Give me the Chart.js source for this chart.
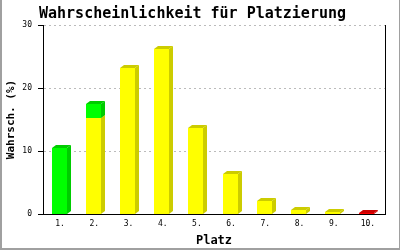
<!DOCTYPE html>
<html>
<head>
<meta charset="utf-8">
<script src="https://cdn.jsdelivr.net/npm/chart.js@4.4.1/dist/chart.umd.min.js"></script>
<style>
  html, body { margin: 0; padding: 0; background: #fff; }
  canvas { display: block; }
</style>
</head>
<body>
<canvas id="chart" width="400" height="250"></canvas>
<script>
// Platzierungen 1. bis 10.
const places = ['1.', '2.', '3.', '4.', '5.', '6.', '7.', '8.', '9.', '10.'];

// Wahrscheinlichkeiten in %, gestapelt: gelb unten, gruen/rot oben
const yellowValues = [0, 15.2, 23.2, 26.2, 13.7, 6.4, 2.1, 0.7, 0.3, 0];
const greenValues = [10.4, 2.3, 0, 0, 0, 0, 0, 0, 0, 0];
const redValues = [0, 0, 0, 0, 0, 0, 0, 0, 0, 0.1];

const yTicks = [0, 10, 20, 30];

const MONO = '"DejaVu Sans Mono", "Liberation Mono", monospace';

// front / side colours for the fake 3D bars
const faceColors = [
  { front: '#ffff00', side: '#cccc00' },
  { front: '#00ff00', side: '#00cc00' },
  { front: '#ff0000', side: '#cc0000' },
];

// redraws every bar with a right side and a top face, bottom stack first
const bars3d = {
  id: 'bars3d',
  afterDatasetsDraw(chart) {
    const ctx = chart.ctx;
    const dx = 4, dy = 3;
    ctx.save();
    chart.data.datasets.forEach((ds, i) => {
      const meta = chart.getDatasetMeta(i);
      const col = faceColors[i];
      meta.data.forEach((bar, j) => {
        if (!ds.data[j]) return;
        const { x, y, base, width } = bar.getProps(['x', 'y', 'base', 'width'], true);
        const l = Math.round(x - width / 2) - 1, r = l + Math.round(width);
        const top = Math.round(y), bot = Math.round(base);
        ctx.fillStyle = col.front;
        ctx.fillRect(l, top, r - l, Math.max(bot - top, 1));
        ctx.fillStyle = col.side;
        ctx.beginPath();
        ctx.moveTo(r, top);
        ctx.lineTo(r + dx, top - dy);
        ctx.lineTo(r + dx, bot - dy);
        ctx.lineTo(r, bot);
        ctx.closePath();
        ctx.fill();
        ctx.beginPath();
        ctx.moveTo(l, top);
        ctx.lineTo(l + dx, top - dy);
        ctx.lineTo(r + dx, top - dy);
        ctx.lineTo(r, top);
        ctx.closePath();
        ctx.fill();
      });
    });
    ctx.restore();
  },
  afterDraw(chart) {
    const ctx = chart.ctx;
    const { top, bottom, right } = chart.chartArea;
    ctx.save();
    // right frame line of the plot
    ctx.strokeStyle = '#000';
    ctx.lineWidth = 1;
    ctx.beginPath();
    ctx.moveTo(Math.round(right) + 0.5, top);
    ctx.lineTo(Math.round(right) + 0.5, bottom);
    ctx.stroke();
    // grey image border
    ctx.fillStyle = '#a0a0a0';
    ctx.fillRect(0, 0, 2, chart.height);
    ctx.fillRect(0, chart.height - 2, chart.width, 2);
    ctx.fillRect(chart.width - 1, 0, 1, chart.height);
    ctx.restore();
  },
};

new Chart(document.getElementById('chart'), {
  type: 'bar',
  data: {
    labels: places,
    datasets: [
      { label: 'gelb', data: yellowValues, backgroundColor: 'rgba(0,0,0,0)' },
      { label: 'gruen', data: greenValues, backgroundColor: 'rgba(0,0,0,0)' },
      { label: 'rot', data: redValues, backgroundColor: 'rgba(0,0,0,0)' },
    ],
  },
  options: {
    responsive: false,
    animation: false,
    events: [],
    layout: { padding: { left: 0, right: 15, top: 0, bottom: 0 } },
    datasets: { bar: { barThickness: 15 } },
    plugins: {
      legend: { display: false },
      tooltip: { enabled: false },
      title: {
        display: true,
        text: 'Wahrscheinlichkeit für Platzierung',
        color: '#000',
        font: { family: MONO, size: 15, weight: 'bold', lineHeight: 1.2 },
        padding: { top: 5, bottom: 2 },
      },
    },
    scales: {
      x: {
        stacked: true,
        grid: { display: false, drawTicks: false },
        border: { display: true, color: '#000', width: 1 },
        ticks: { color: '#000', font: { family: MONO, size: 8 }, padding: 5, maxRotation: 0 },
        title: {
          display: true,
          text: 'Platz',
          color: '#000',
          font: { family: MONO, size: 12, weight: 'bold' },
          padding: { top: 0, bottom: 2 },
        },
        afterFit(scale) { scale.height = 36; },
      },
      y: {
        stacked: true,
        min: 0,
        max: 30,
        afterBuildTicks(scale) { scale.ticks = yTicks.map(v => ({ value: v })); },
        grid: {
          color: '#bbbbbb',
          tickColor: '#000',
          tickLength: 5,
          tickBorderDash: [],
        },
        border: { display: true, color: '#000', width: 1, dash: [2, 3] },
        ticks: { color: '#000', font: { family: MONO, size: 8 }, padding: 6 },
        title: {
          display: true,
          text: 'Wahrsch. (%)',
          color: '#000',
          font: { family: MONO, size: 11, weight: 'bold' },
          padding: { top: 5, bottom: 0 },
        },
        afterFit(scale) { scale.width = 43; },
      },
    },
  },
  plugins: [bars3d],
});
</script>
</body>
</html>
